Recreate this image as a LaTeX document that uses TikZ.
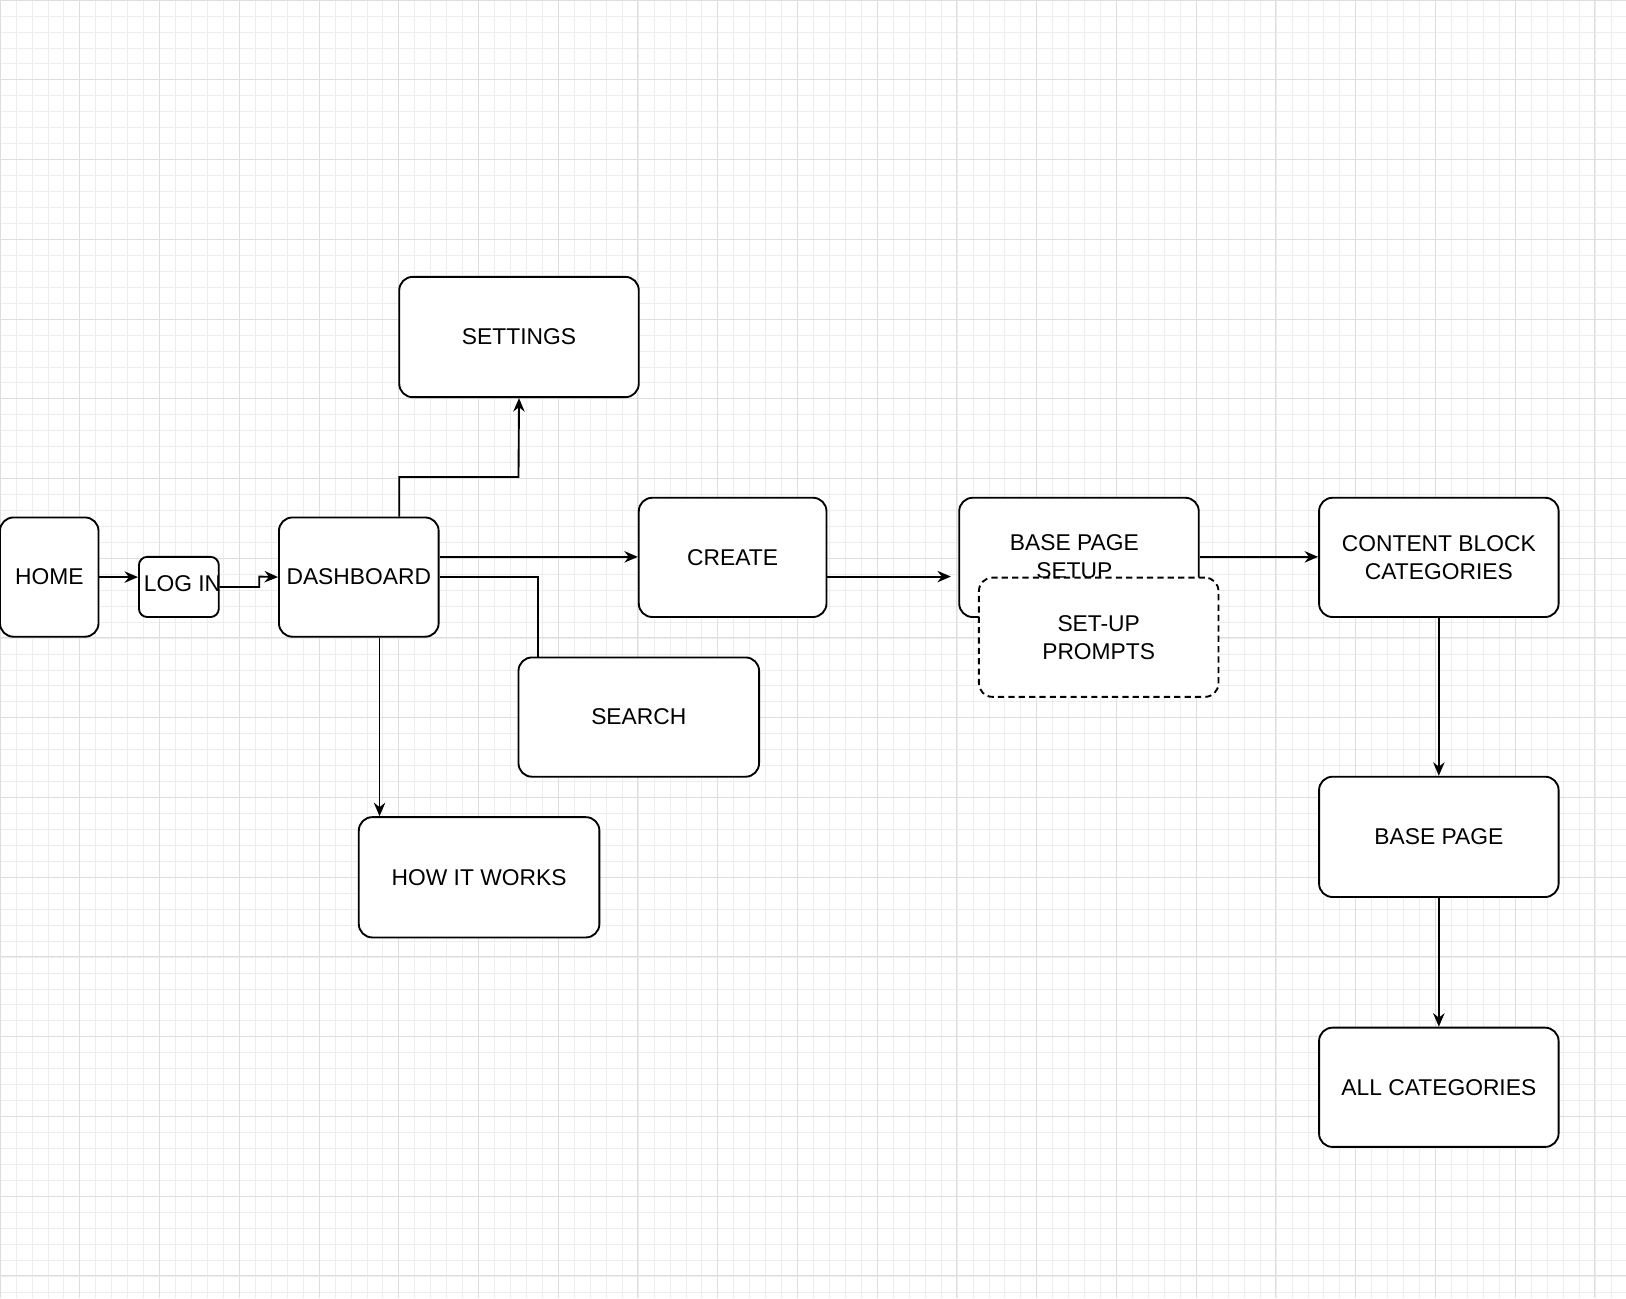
\documentclass[tikz,border=0pt]{standalone}
\usepackage{fontspec}
\setmainfont{Liberation Sans}
\usetikzlibrary{arrows.meta}
\begin{document}
\begin{tikzpicture}[x=1pt,y=-1pt,
  box/.style={draw,line width=1.8pt,rounded corners=13pt,fill=white,align=center,inner sep=0pt,font=\fontsize{22}{27}\selectfont},
  conn/.style={line width=1.8pt},
  arr/.style={conn,-{Stealth[length=13pt,width=11pt]}}]
\useasboundingbox (0,0) rectangle (1568,1252);
\fill[white] (0,0) rectangle (1568,1252);
\foreach \i in {0,...,102} {
  \draw[black!7,line width=0.6pt] ({\i*15.38},0) -- ({\i*15.38},1252);
}
\foreach \i in {0,...,81} {
  \draw[black!7,line width=0.6pt] (0,{\i*15.38}) -- (1568,{\i*15.38});
}
\foreach \i in {0,...,20} {
  \draw[black!13,line width=0.9pt] ({\i*76.9},0) -- ({\i*76.9},1252);
}
\foreach \i in {0,...,16} {
  \draw[black!13,line width=0.9pt] (0,{\i*76.9}) -- (1568,{\i*76.9});
}
\newcommand{\bx}[6]{\node[box,minimum width=#4-#2,minimum height=#5-#3] (#1) at ({(#2+#4)/2},{(#3+#5)/2}) {#6};}
\bx{home}{0}{499}{95}{614}{HOME}
\node[box,minimum width=77,minimum height=58,rounded corners=8pt] (login) at (172.5,566) {};
\node[font=\fontsize{22}{27}\selectfont] at (176,563) {LOG IN};
\bx{dash}{269}{499}{423}{614}{DASHBOARD}
\bx{settings}{385}{267}{616}{383}{SETTINGS}
\bx{create}{616}{480}{797}{595}{CREATE}
\bx{search}{500}{634}{732}{749}{SEARCH}
\bx{how}{346}{788}{578}{904}{HOW IT WORKS}
\node[box,minimum width=231,minimum height=115] (bps) at (1040.5,537.5) {};
\node[font=\fontsize{22}{27}\selectfont,align=center] at (1036,537) {BASE PAGE\\SETUP};
\node[box,dash pattern=on 6pt off 4pt,minimum width=231,minimum height=115] (prompts) at (1059.5,614.5) {SET-UP\\PROMPTS};
\bx{cbc}{1272}{480}{1503}{595}{CONTENT BLOCK\\CATEGORIES}
\bx{bp}{1272}{749}{1503}{865}{BASE PAGE}
\bx{ac}{1272}{991}{1503}{1106}{ALL CATEGORIES}
\draw[arr] (home.east) -- (login.west |- home.east);
\draw[arr] (login.east) -- (250,566) -- (250,556) -- (dash.west);
\draw[arr] (dash.north -| 385,0) -- (385,460) -- (500,460) -- (settings.south);
\draw[arr] (dash.east |- 0,537) -- (create.west |- 0,537);
\draw[conn] (dash.east |- 0,556) -- (519,556) -- (search.north -| 519,0);
\draw[arr] (dash.south -| 366,0) -- (how.north -| 366,0);
\draw[arr] (create.east |- 0,556) -- (917,556);
\draw[arr] (bps.east |- 0,537) -- (cbc.west |- 0,537);
\draw[arr] (cbc.south) -- (bp.north);
\draw[arr] (bp.south) -- (ac.north);
\end{tikzpicture}
\end{document}
